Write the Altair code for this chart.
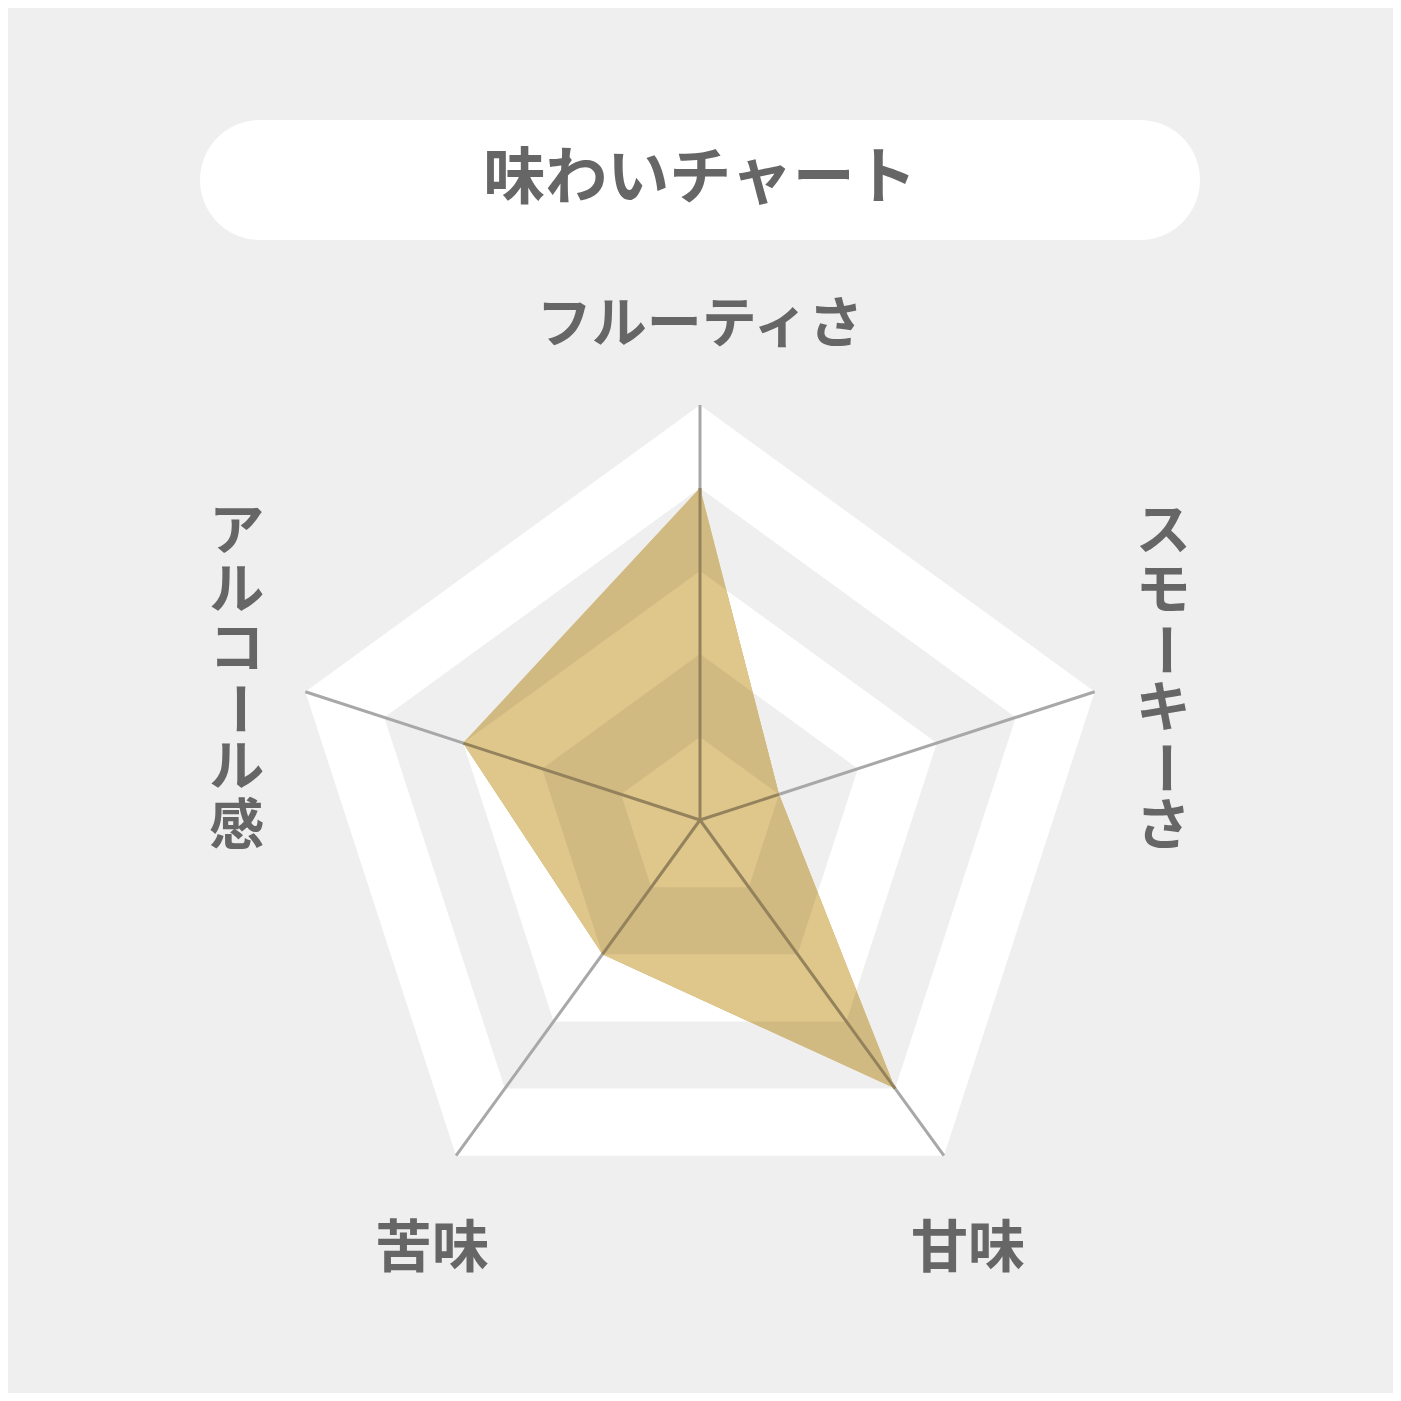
import math
import altair as alt

# ---- data ----
categories = ["フルーティさ", "スモーキーさ", "甘味", "苦味", "アルコール感"]
values = [4, 1, 4, 2, 3]
max_level = 5
ring_levels = [5, 4, 3, 2, 1]
ring_colors = ["#ffffff", "#efefef", "#ffffff", "#efefef", "#ffffff"]
title_text = "味わいチャート"
label_vertical = [False, True, False, False, True]

# ---- style / layout constants (level units, 1 level = 83 px) ----
UNIT = 83
CENTER = [692, 812]          # chart-pixel position of the radar centre
W = H = 1385
FONT = "Noto Sans CJK JP"
TEXT_COLOR = "#666666"
LABEL_SIZE = 55
FILL_COLOR = "#dfc68b"        # drawn with a "multiply" look
SPOKE_COLOR = "#a8a8a8"
LABEL_ANCHOR = {
    "フルーティさ": (0.0, 5.96),
    "スモーキーさ": (5.58, 3.47),
    "甘味": (3.23, -5.18),
    "苦味": (-3.23, -5.18),
    "アルコール感": (-5.58, 3.47),
}
V_PITCH = 0.711
TITLE_Y = 7.711
TITLE_HALF = 5.301

N = len(categories)
angles = [math.pi / 2 - 2 * math.pi * i / N for i in range(N)]


def ring_pts(rs):
    return [[r * math.cos(a), r * math.sin(a)] for r, a in zip(rs, angles)]


def closed(pts):
    return [list(p) for p in pts] + [list(pts[0])]


def hex2rgb(h):
    h = h.lstrip("#")
    return [int(h[i:i + 2], 16) for i in (0, 2, 4)]


def multiply(h1, h2):
    a, b = hex2rgb(h1), hex2rgb(h2)
    return "#" + "".join("%02x" % round(x * y / 255) for x, y in zip(a, b))


def signed_area(poly):
    s = 0
    for i in range(len(poly)):
        x1, y1 = poly[i]
        x2, y2 = poly[(i + 1) % len(poly)]
        s += x1 * y2 - x2 * y1
    return s / 2


def clip(subject, clip_poly):
    """Sutherland-Hodgman clipping of subject by a convex polygon."""
    sgn = 1 if signed_area(clip_poly) > 0 else -1
    out = subject
    for i in range(len(clip_poly)):
        A = clip_poly[i]
        B = clip_poly[(i + 1) % len(clip_poly)]

        def inside(P):
            return sgn * ((B[0] - A[0]) * (P[1] - A[1]) - (B[1] - A[1]) * (P[0] - A[0])) >= -1e-12

        def inter(P, Q):
            dx1, dy1 = B[0] - A[0], B[1] - A[1]
            dx2, dy2 = Q[0] - P[0], Q[1] - P[1]
            den = dx1 * dy2 - dy1 * dx2
            t = (dx1 * (A[1] - P[1]) - dy1 * (A[0] - P[0])) / den
            return [P[0] + t * dx2, P[1] + t * dy2]

        inp = out
        out = []
        if not inp:
            break
        for j in range(len(inp)):
            P = inp[j - 1]
            Q = inp[j]
            if inside(Q):
                if not inside(P):
                    out.append(inter(P, Q))
                out.append(Q)
            elif inside(P):
                out.append(inter(P, Q))
    return out


proj = dict(type="identity", reflectY=True, scale=UNIT, translate=CENTER)

# background bands
band_feats = [
    {"type": "Feature", "properties": {"lvl": l, "fill": c},
     "geometry": {"type": "Polygon", "coordinates": [closed(ring_pts([l] * N))]}}
    for l, c in zip(ring_levels, ring_colors)
]
bands = alt.Chart(alt.Data(values=band_feats)).mark_geoshape(
    strokeWidth=0
).encode(fill=alt.Fill("properties.fill:N", scale=None)).project(**proj)

# spokes
spoke_feats = [
    {"type": "Feature", "properties": {"cat": c},
     "geometry": {"type": "LineString",
                  "coordinates": [[0, 0], [max_level * math.cos(a), max_level * math.sin(a)]]}}
    for c, a in zip(categories, angles)
]
spokes = alt.Chart(alt.Data(values=spoke_feats)).mark_geoshape(
    filled=False, stroke=SPOKE_COLOR, strokeWidth=3
).project(**proj)

# data polygon, split by band so that it looks multiplied onto the bands
data_poly = ring_pts(values)
piece_feats = []
for l, c in zip(ring_levels, ring_colors):
    piece = clip(data_poly, ring_pts([l] * N))
    if len(piece) >= 3:
        piece_feats.append({"type": "Feature",
                            "properties": {"lvl": l, "fill": multiply(FILL_COLOR, c)},
                            "geometry": {"type": "Polygon", "coordinates": [closed(piece)]}})
area = alt.Chart(alt.Data(values=piece_feats)).mark_geoshape(
    strokeWidth=0
).encode(fill=alt.Fill("properties.fill:N", scale=None)).project(**proj)

# the part of each spoke seen through the fill
inner_feats = [
    {"type": "Feature", "properties": {"cat": c},
     "geometry": {"type": "LineString",
                  "coordinates": [[0, 0], [v * math.cos(a), v * math.sin(a)]]}}
    for c, v, a in zip(categories, values, angles)
]
inner_spokes = alt.Chart(alt.Data(values=inner_feats)).mark_geoshape(
    filled=False, stroke=multiply(SPOKE_COLOR, FILL_COLOR), strokeWidth=3
).project(**proj)

# title pill
pill_feat = [{"type": "Feature", "properties": {"name": "pill"},
              "geometry": {"type": "LineString",
                           "coordinates": [[-TITLE_HALF, TITLE_Y], [TITLE_HALF, TITLE_Y]]}}]
pill = alt.Chart(alt.Data(values=pill_feat)).mark_geoshape(
    filled=False, stroke="#ffffff", strokeWidth=120, strokeCap="round"
).project(**proj)

title = alt.Chart(alt.Data(values=[{"lon": 0, "lat": TITLE_Y, "t": title_text}])).mark_text(
    font=FONT, fontWeight="bold", fontSize=62, color=TEXT_COLOR,
    align="center", baseline="middle"
).encode(longitude="lon:Q", latitude="lat:Q", text="t:N").project(**proj)

# axis labels
rows = []
for cat, vert in zip(categories, label_vertical):
    x0, y0 = LABEL_ANCHOR[cat]
    if vert:
        for i, ch in enumerate(cat):
            rows.append({"lon": x0, "lat": y0 - i * V_PITCH, "t": ch,
                         "rot": 90 if ch == "ー" else 0, "size": LABEL_SIZE})
    else:
        rows.append({"lon": x0, "lat": y0, "t": cat, "rot": 0,
                     "size": LABEL_SIZE if len(cat) > 2 else 57})

labels = alt.Chart(alt.Data(values=rows)).mark_text(
    font=FONT, fontWeight="bold", color=TEXT_COLOR,
    align="center", baseline="middle"
).encode(
    longitude="lon:Q", latitude="lat:Q", text="t:N",
    angle=alt.Angle("rot:Q", scale=None),
    size=alt.Size("size:Q", scale=None)
).project(**proj)

chart = alt.layer(bands, spokes, area, inner_spokes, pill, title, labels).properties(
    width=W, height=H, background="#efefef", padding=0,
    autosize=alt.AutoSizeParams(type="none")
).configure_view(stroke=None)

chart.save("out.html", embed_options={"renderer": "svg", "actions": False})
